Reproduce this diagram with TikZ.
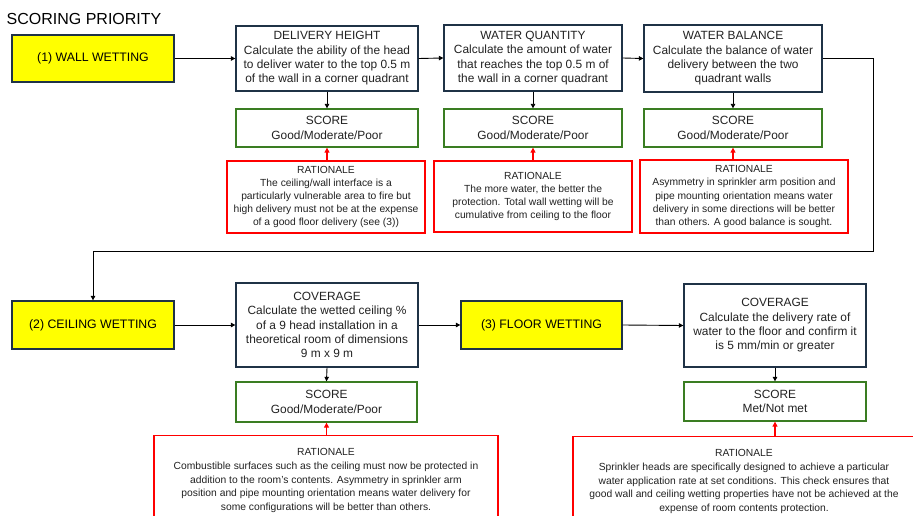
\documentclass[tikz,border=0pt]{standalone}
\usepackage{fontspec}
\setmainfont{Liberation Sans}
\usetikzlibrary{arrows.meta}
\definecolor{navy}{HTML}{1F3246}
\definecolor{okgreen}{HTML}{3A7D22}
\definecolor{txt}{HTML}{222222}
\definecolor{ylw}{HTML}{FFFF00}
\begin{document}
\begin{tikzpicture}[x=1pt,y=-1pt,
  box/.style={draw=navy, line width=1.3pt, fill=white, align=center, inner sep=1pt,
    font=\fontsize{11.9}{14.3}\selectfont, text=txt, execute at begin node={\rule{0pt}{12.5pt}}},
  scorebox/.style={draw=okgreen, line width=1.3pt, fill=white, align=center, inner sep=1pt,
    font=\fontsize{11.9}{14.6}\selectfont, text=txt, execute at begin node={\rule{0pt}{11.5pt}}},
  rat/.style={draw=red, line width=1.3pt, fill=white, align=center, inner sep=1pt,
    font=\fontsize{10.3}{13.1}\selectfont, text=txt, execute at begin node={\rule{0pt}{12pt}}},
  stage/.style={draw=navy, line width=1.3pt, fill=ylw, align=center,
    minimum width=162pt, minimum height=47pt, font=\fontsize{12.3}{14}\selectfont, text=black},
  arr/.style={draw=black, line width=0.9pt, -{Triangle[length=4.5pt,width=4.5pt]}},
  redarr/.style={draw=red, line width=1.1pt, -{Triangle[length=5pt,width=5pt]}}
]
\path[use as bounding box, clip] (0,0) rectangle (913,516);
\fill[white] (0,0) rectangle (913,516);

\node[font=\fontsize{16}{18}\selectfont, anchor=west, inner sep=0pt, text=black] (title) at (6.5,18.5) {SCORING PRIORITY};

% stage boxes
\node[stage] (ww) at (93,58.5) {(1) WALL WETTING};
\node[stage, minimum height=48pt] (cw) at (93,325) {(2) CEILING WETTING};
\node[stage, minimum width=161pt, minimum height=48pt] (fw) at (541.5,325) {(3) FLOOR WETTING};

% top row
\node[box, minimum width=182pt, minimum height=65pt] (dh) at (327,58.5)
  {DELIVERY HEIGHT\\Calculate the ability of the head\\to deliver water to the top 0.5 m\\of the wall in a corner quadrant};
\node[box, minimum width=178pt, minimum height=66pt] (wq) at (533,58)
  {WATER QUANTITY\\Calculate the amount of water\\that reaches the top 0.5 m of\\the wall in a corner quadrant};
\node[box, minimum width=178pt, minimum height=67pt] (wb) at (733,58.5)
  {WATER BALANCE\\Calculate the balance of water\\delivery between the two\\quadrant walls};

\node[scorebox, minimum width=182pt, minimum height=38pt] (s1) at (327,128) {SCORE\\Good/Moderate/Poor};
\node[scorebox, minimum width=178pt, minimum height=38pt] (s2) at (533,128) {SCORE\\Good/Moderate/Poor};
\node[scorebox, minimum width=178pt, minimum height=38pt] (s3) at (733,128) {SCORE\\Good/Moderate/Poor};

\node[rat, minimum width=198pt, minimum height=72pt] (r1) at (326,197)
  {RATIONALE\\The ceiling/wall interface is a\\particularly vulnerable area to fire but\\high delivery must not be at the expense\\of a good floor delivery (see (3))};
\node[rat, minimum width=198pt, minimum height=71pt] (r2) at (533,196.5)
  {RATIONALE\\The more water, the better the\\protection. Total wall wetting will be\\cumulative from ceiling to the floor};
\node[rat, minimum width=208pt, minimum height=73pt] (r3) at (744,196.5)
  {RATIONALE\\Asymmetry in sprinkler arm position and\\pipe mounting orientation means water\\delivery in some directions will be better\\than others. A good balance is sought.};

% bottom row
\node[box, minimum width=182pt, minimum height=84pt] (cov1) at (327,325)
  {COVERAGE\\Calculate the wetted ceiling \%\\of a 9 head installation in a\\theoretical room of dimensions\\9 m x 9 m};
\node[box, minimum width=182pt, minimum height=83pt] (cov2) at (775,325.5)
  {COVERAGE\\Calculate the delivery rate of\\water to the floor and confirm it\\is 5 mm/min or greater};

\node[scorebox, minimum width=181pt, minimum height=40pt] (s4) at (326.5,402) {SCORE\\Good/Moderate/Poor};
\node[scorebox, minimum width=182pt, minimum height=39pt] (s5) at (775,401.5) {SCORE\\Met/Not met};

\node[rat, anchor=north, minimum width=344pt, minimum height=90pt, font=\fontsize{10.3}{13.8}\selectfont] (r4) at (326,435)
  {RATIONALE\\Combustible surfaces such as the ceiling must now be protected in\\addition to the room's contents. Asymmetry in sprinkler arm\\position and pipe mounting orientation means water delivery for\\some configurations will be better than others.};
\node[rat, anchor=north, minimum width=342pt, minimum height=90pt, font=\fontsize{10.3}{13.8}\selectfont] (r5) at (744,436)
  {RATIONALE\\Sprinkler heads are specifically designed to achieve a particular\\water application rate at set conditions. This check ensures that\\good wall and ceiling wetting properties have not be achieved at the\\expense of room contents protection.};

% connectors
\coordinate (k1) at (873,251);
\draw[arr] (ww.east) -- (dh.west);
\draw[arr] (dh.east) -- (wq.west);
\draw[arr] (wq.east) -- (wb.west);
\draw[arr] (dh.south) -- (s1.north);
\draw[arr] (wq.south) -- (s2.north);
\draw[arr] (wb.south) -- (s3.north);
\draw[arr] (wb.east) -| (k1) -| (cw.north);
\draw[arr] (cw.east) -- (cov1.west);
\draw[arr] (cov1.east) -- (fw.west);
\draw[arr] (fw.east) -- (cov2.west);
\draw[arr] (cov1.south) -- (s4.north);
\draw[arr] (cov2.south) -- (s5.north);

\draw[redarr] (s1.south |- r1.north) -- (s1.south);
\draw[redarr] (s2.south |- r2.north) -- (s2.south);
\draw[redarr] (s3.south |- r3.north) -- (s3.south);
\draw[redarr] (s4.south |- r4.north) -- (s4.south);
\draw[redarr] (s5.south |- r5.north) -- (s5.south);
\end{tikzpicture}
\end{document}
